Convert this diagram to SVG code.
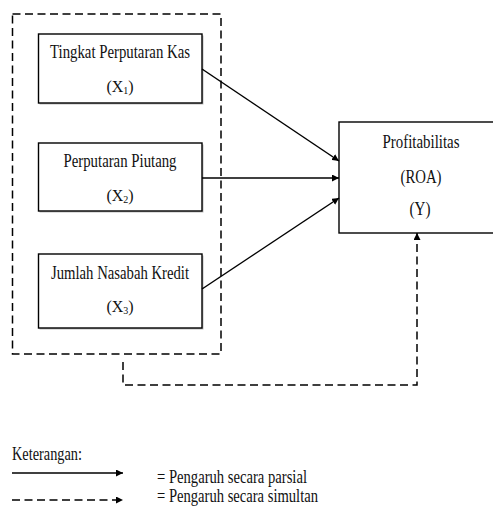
<svg xmlns="http://www.w3.org/2000/svg" width="493" height="506" viewBox="0 0 493 506">
<style>
.box{fill:#fff;stroke:#000;stroke-width:1.4}
.shadow{fill:#bbb}
.t{font-family:"Liberation Serif","Times New Roman",serif;font-size:19px;fill:#111;text-anchor:middle}
.tx{font-family:"Liberation Serif","Times New Roman",serif;font-size:16px;fill:#111;text-anchor:middle}
.tl{font-family:"Liberation Serif","Times New Roman",serif;font-size:18px;fill:#111}
.sub{font-size:10px}
.solid{stroke:#000;stroke-width:1.5;fill:none}
.dash{stroke:#000;stroke-width:1.5;fill:none;stroke-dasharray:8 4.5}
</style>
<defs>
<marker id="ah" viewBox="0 0 10 10" refX="10" refY="5" markerWidth="7" markerHeight="7" markerUnits="userSpaceOnUse" orient="auto">
<path d="M0,0 L10,5 L0,10 z" fill="#000"/>
</marker>
</defs>
<rect width="493" height="506" fill="#fff"/>
<g id="group-box">
<rect x="12.5" y="14" width="208.5" height="340" class="dash"/>
</g>
<g id="x1">
<rect x="39.5" y="35.5" width="164" height="69" class="shadow"/>
<rect x="38.5" y="34" width="163.5" height="69" class="box"/>
<text class="t" x="120" y="58" textLength="140" lengthAdjust="spacingAndGlyphs">Tingkat Perputaran Kas</text>
<text class="tx" x="120" y="92">(X<tspan class="sub" dy="2">1</tspan><tspan dy="-2">)</tspan></text>
</g>
<g id="x2">
<rect x="39.5" y="144.5" width="164" height="68" class="shadow"/>
<rect x="38.5" y="143" width="163.5" height="68" class="box"/>
<text class="t" x="120" y="167" textLength="113" lengthAdjust="spacingAndGlyphs">Perputaran Piutang</text>
<text class="tx" x="120" y="201">(X<tspan class="sub" dy="2">2</tspan><tspan dy="-2">)</tspan></text>
</g>
<g id="x3">
<rect x="39.5" y="255.5" width="164" height="74" class="shadow"/>
<rect x="38.5" y="254" width="163.5" height="74" class="box"/>
<text class="t" x="120" y="279" textLength="138" lengthAdjust="spacingAndGlyphs">Jumlah Nasabah Kredit</text>
<text class="tx" x="120" y="312">(X<tspan class="sub" dy="2">3</tspan><tspan dy="-2">)</tspan></text>
</g>
<g id="y">
<rect x="339" y="122" width="160" height="111" class="box"/>
<text class="t" x="421" y="148" textLength="77" lengthAdjust="spacingAndGlyphs">Profitabilitas</text>
<text class="t" x="421" y="183" textLength="41" lengthAdjust="spacingAndGlyphs">(ROA)</text>
<text class="t" x="420" y="215" textLength="21" lengthAdjust="spacingAndGlyphs">(Y)</text>
</g>
<g id="connectors">
<line x1="202" y1="69" x2="339" y2="161" class="solid" marker-end="url(#ah)"/>
<line x1="202" y1="178" x2="339" y2="178" class="solid" marker-end="url(#ah)"/>
<line x1="202" y1="289" x2="339" y2="198" class="solid" marker-end="url(#ah)"/>
<path d="M123,362 V385 H417 V233" class="dash" marker-end="url(#ah)"/>
</g>
<g id="legend">
<text class="tl" x="12" y="460" textLength="70" lengthAdjust="spacingAndGlyphs">Keterangan:</text>
<line x1="12" y1="473" x2="123" y2="473" class="solid" marker-end="url(#ah)"/>
<text class="tl" x="157" y="483" textLength="150" lengthAdjust="spacingAndGlyphs">= Pengaruh secara parsial</text>
<line x1="12" y1="500" x2="123" y2="500" class="dash" stroke-dasharray="8 5" marker-end="url(#ah)"/>
<text class="tl" x="157" y="502" textLength="161" lengthAdjust="spacingAndGlyphs">= Pengaruh secara simultan</text>
</g>
</svg>
